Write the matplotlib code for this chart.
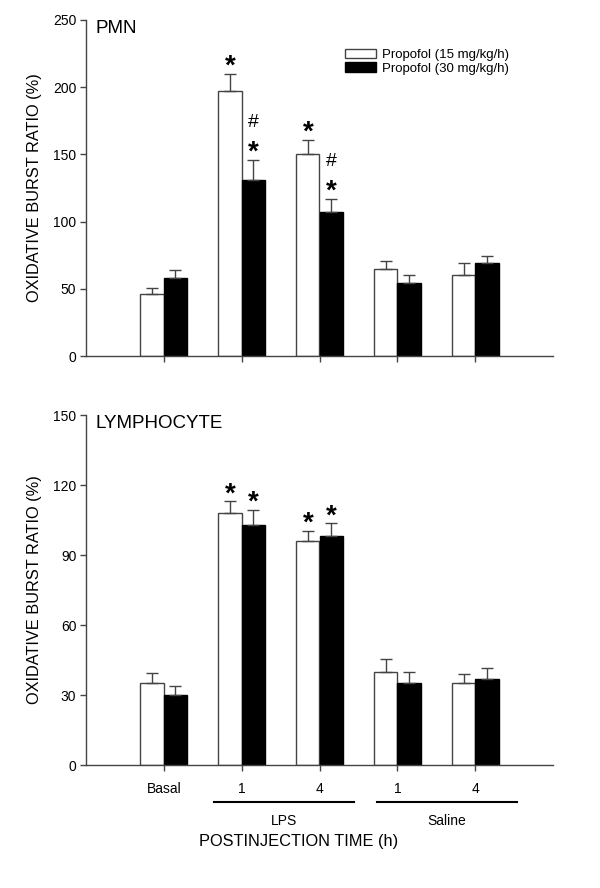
import matplotlib.pyplot as plt
import matplotlib.transforms as mtransforms
import numpy as np

plt.rcParams['font.family'] = ['Liberation Sans', 'DejaVu Sans']

# data
groups = ['Basal', '1', '4', '1', '4']
pmn_15 = [46, 197, 150, 65, 60]
pmn_15_err = [5, 13, 11, 6, 9]
pmn_30 = [58, 131, 107, 54, 69]
pmn_30_err = [6, 15, 10, 6.5, 5.5]
lym_15 = [35, 108, 96, 40, 35]
lym_15_err = [4.5, 5, 4.5, 5.5, 4]
lym_30 = [30, 103, 98, 35, 37]
lym_30_err = [4, 6.5, 5.6, 5, 4.6]
# significance marks: (group index, series 0/1, text)
pmn_marks = [(1, 0, '*'), (1, 1, '*'), (2, 0, '*'), (2, 1, '*')]
pmn_hash = [(1, 1), (2, 1)]
lym_marks = [(1, 0, '*'), (1, 1, '*'), (2, 0, '*'), (2, 1, '*')]

x = np.arange(1, len(groups) + 1)
w = 0.3
edge = '#444444'

fig = plt.figure(figsize=(6, 8.88), dpi=100)
ax1 = fig.add_axes([0.1433, 0.599, 0.7784, 0.3785])
ax2 = fig.add_axes([0.1433, 0.1385, 0.7784, 0.394])


def draw(ax, v15, e15, v30, e30, ymax, step, title, marks, hashes, unit):
    ax.bar(x - w / 2, v15, w, color='white', edgecolor=edge, linewidth=1,
           label='Propofol (15 mg/kg/h)')
    ax.bar(x + w / 2, v30, w, color='black', edgecolor='black', linewidth=1,
           label='Propofol (30 mg/kg/h)')
    ax.errorbar(x - w / 2, v15, yerr=[np.zeros(len(x)), e15], fmt='none',
                ecolor=edge, elinewidth=1, capsize=4.5, capthick=1)
    ax.errorbar(x + w / 2, v30, yerr=[np.zeros(len(x)), e30], fmt='none',
                ecolor=edge, elinewidth=1, capsize=4.5, capthick=1)
    ax.set_xlim(0, 6)
    ax.set_ylim(0, ymax)
    ax.set_yticks(np.arange(0, ymax + 1, step))
    ax.set_xticks(x)
    for s in ['top', 'right']:
        ax.spines[s].set_visible(False)
    for s in ['left', 'bottom']:
        ax.spines[s].set_color(edge)
        ax.spines[s].set_linewidth(1)
    ax.tick_params(axis='both', direction='out', length=4, width=1,
                   color=edge, labelsize=10, pad=3)
    ax.tick_params(axis='x', pad=8)
    ax.set_ylabel('OXIDATIVE BURST RATIO (%)', fontsize=11.8, labelpad=8)
    ax.text(0.02, 1.0, title, transform=ax.transAxes, fontsize=13.5,
            va='top', ha='left')
    vals = [v15, v30]
    errs = [e15, e30]
    for gi, si, t in marks:
        xp = x[gi] + (si - 0.5) * w
        top = vals[si][gi] + errs[si][gi]
        ax.text(xp, top + unit * 0.5, t, ha='center', va='center',
                fontsize=20, fontweight='bold')
    for gi, si in hashes:
        xp = x[gi] + (si - 0.5) * w
        top = vals[si][gi] + errs[si][gi]
        ax.text(xp, top + unit * 2.75, '#', ha='center', va='center',
                fontsize=14)


draw(ax1, pmn_15, pmn_15_err, pmn_30, pmn_30_err, 250, 50, 'PMN',
     pmn_marks, pmn_hash, 10)
draw(ax2, lym_15, lym_15_err, lym_30, lym_30_err, 150, 30, 'LYMPHOCYTE',
     lym_marks, [], 6)

ax1.set_xticklabels([])
ax2.set_xticklabels(groups)

ax1.legend(loc='upper left', bbox_to_anchor=(0.555, 0.915), frameon=False,
           fontsize=9.5, handlelength=2.3, handleheight=0.75, handletextpad=0.5,
           labelspacing=0.1, borderpad=0, borderaxespad=0)

# group underlines below the lower axis
trans = mtransforms.blended_transform_factory(ax2.transData, ax2.transAxes)
for x0, x1, lab in [(1.645, 3.44, 'LPS'), (3.74, 5.54, 'Saline')]:
    ax2.plot([x0, x1], [-0.107, -0.107], color='black', lw=1.5,
             transform=trans, clip_on=False)
    ax2.text((x0 + x1) / 2, -0.16, lab, transform=trans, ha='center',
             va='center', fontsize=10)

ax2.text(0.455, -0.218, 'POSTINJECTION TIME (h)', transform=ax2.transAxes,
         ha='center', va='center', fontsize=11.8)

fig.savefig('out.png', dpi=100)
